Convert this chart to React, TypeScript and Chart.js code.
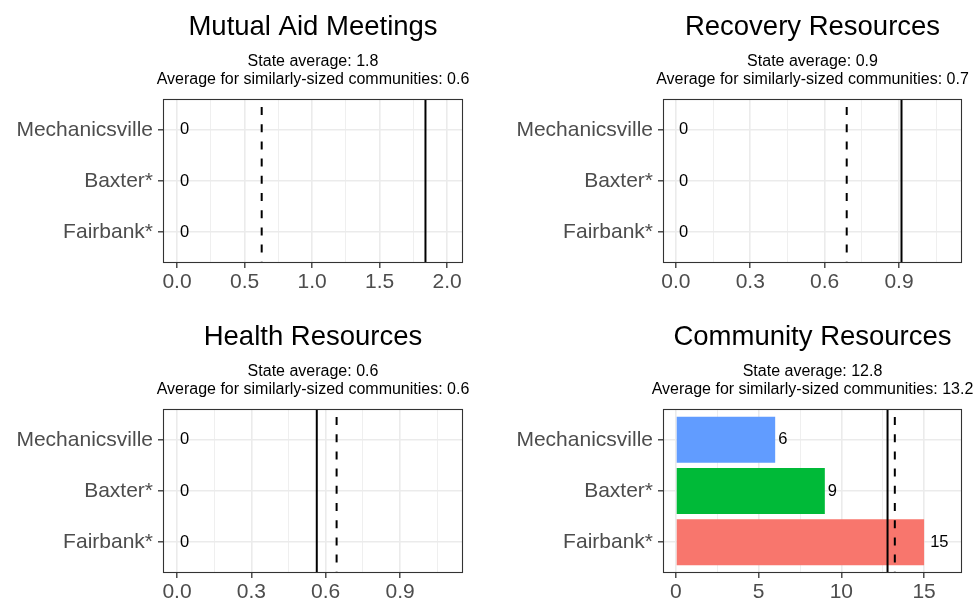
import React, { useEffect, useRef } from "react";
import { Chart, registerables } from "chart.js";

Chart.register(...registerables);

const FONT = "'Liberation Sans', Arial, Helvetica, sans-serif";
Chart.defaults.font.family = FONT;

// ---------- data ----------
const categories = ["Mechanicsville", "Baxter*", "Fairbank*"];
const barColors = ["#619CFF", "#00BA38", "#F8766D"];

const panelTitles = [
  "Mutual Aid Meetings",
  "Recovery Resources",
  "Health Resources",
  "Community Resources",
];

const mutualAidValues = [0, 0, 0];
const recoveryValues = [0, 0, 0];
const healthValues = [0, 0, 0];
const communityValues = [6, 9, 15];

const stateAverage = [1.84, 0.91, 0.564, 12.79];
const similarAverage = [0.627, 0.689, 0.644, 13.23];

const xMajorTicks = [
  [0, 0.5, 1, 1.5, 2],
  [0, 0.3, 0.6, 0.9],
  [0, 0.3, 0.6, 0.9],
  [0, 5, 10, 15],
];
const xMinorTicks = [
  [0.25, 0.75, 1.25, 1.75],
  [0.15, 0.45, 0.75, 1.05],
  [0.15, 0.45, 0.75, 1.05],
  [2.5, 7.5, 12.5],
];
const xTickLabels = [
  ["0.0", "0.5", "1.0", "1.5", "2.0"],
  ["0.0", "0.3", "0.6", "0.9"],
  ["0.0", "0.3", "0.6", "0.9"],
  ["0", "5", "10", "15"],
];
const xMin = [-0.104, -0.052, -0.0565, -0.78];
const xMax = [2.118, 1.154, 1.154, 17.29];

const panelValues = [mutualAidValues, recoveryValues, healthValues, communityValues];

// ---------- layout (style only) ----------
const CANVAS_W = 490;
const CANVAS_H = 310;
const AREA_LEFT = [163, 173, 163, 173];
const AREA_RIGHT = [463, 472, 463, 472];
const AREA_TOP = 99;
const AREA_BOTTOM = 263;

const isIn = (arr: number[], v: number) => arr.some((m) => Math.abs(m - v) < 1e-9);

function Panel({ index }: { index: number }) {
  const ref = useRef<HTMLCanvasElement>(null);

  useEffect(() => {
    const values = panelValues[index];
    const majors = xMajorTicks[index];
    const minors = xMinorTicks[index];
    const labels = xTickLabels[index];

    const overlay = {
      id: "overlay" + index,
      afterDatasetsDraw(chart: any) {
        const { ctx, chartArea: a, scales } = chart;
        const x = scales.x;
        ctx.save();
        // reference lines
        ctx.strokeStyle = "#000000";
        ctx.lineWidth = 2;
        const sx = x.getPixelForValue(stateAverage[index]);
        ctx.beginPath();
        ctx.moveTo(sx, a.top);
        ctx.lineTo(sx, a.bottom);
        ctx.stroke();
        ctx.setLineDash([8, 9.2]);
        ctx.lineDashOffset = 9.2;
        const dx = x.getPixelForValue(similarAverage[index]);
        ctx.beginPath();
        ctx.moveTo(dx, a.top);
        ctx.lineTo(dx, a.bottom);
        ctx.stroke();
        ctx.setLineDash([]);

        // value labels
        const meta = chart.getDatasetMeta(0);
        ctx.font = `16.5px ${FONT}`;
        ctx.fillStyle = "#000000";
        ctx.textBaseline = "middle";
        ctx.textAlign = "left";
        meta.data.forEach((el: any, j: number) => {
          const txt = String(values[j]);
          const w = ctx.measureText(txt).width;
          ctx.fillText(txt, el.x + w * 0.33, el.y);
        });

        // panel border
        ctx.strokeStyle = "#333333";
        ctx.lineWidth = 1.1;
        ctx.strokeRect(
          Math.round(a.left) + 0.5,
          Math.round(a.top) + 0.5,
          Math.round(a.right - a.left) - 1,
          Math.round(a.bottom - a.top) - 1
        );

        // titles
        const cx = (a.left + a.right) / 2;
        ctx.textAlign = "center";
        ctx.textBaseline = "alphabetic";
        ctx.fillStyle = "#000000";
        ctx.font = `27.5px ${FONT}`;
        ctx.fillText(panelTitles[index], cx, 35);
        ctx.font = `16px ${FONT}`;
        ctx.fillText(`State average: ${stateAverage[index].toFixed(1)}`, cx, 66);
        ctx.fillText(
          `Average for similarly-sized communities: ${similarAverage[index].toFixed(1)}`,
          cx,
          84
        );
        ctx.restore();
      },
    };

    const chart = new Chart(ref.current as HTMLCanvasElement, {
      type: "bar",
      data: {
        datasets: [
          {
            data: values.map((v, i) => ({ x: v, y: i })) as any,
            backgroundColor: barColors,
            borderWidth: 0,
            barPercentage: 0.9,
            categoryPercentage: 1,
          },
        ],
      },
      options: {
        indexAxis: "y",
        responsive: false,
        maintainAspectRatio: false,
        animation: false,
        layout: {
          padding: {
            top: AREA_TOP,
            right: CANVAS_W - AREA_RIGHT[index],
            left: 0,
            bottom: 0,
          },
        },
        plugins: {
          legend: { display: false },
          tooltip: { enabled: false },
          title: { display: false },
        },
        scales: {
          x: {
            type: "linear",
            min: xMin[index],
            max: xMax[index],
            offset: false,
            afterBuildTicks: (axis: any) => {
              axis.ticks = [...majors, ...minors]
                .sort((p, q) => p - q)
                .map((v) => ({ value: v }));
            },
            afterFit: (axis: any) => {
              axis.height = CANVAS_H - AREA_BOTTOM;
            },
            ticks: {
              autoSkip: false,
              maxRotation: 0,
              padding: 2,
              color: "#4D4D4D",
              font: { size: 21, family: FONT },
              callback: (v: any) => {
                const k = majors.findIndex((m) => Math.abs(m - Number(v)) < 1e-9);
                return k >= 0 ? labels[k] : "";
              },
            },
            grid: {
              offset: false,
              color: "#EBEBEB",
              lineWidth: (c: any) => (isIn(majors, c.tick?.value) ? 1.6 : 0.8),
              tickLength: 5,
              tickColor: (c: any) =>
                isIn(majors, c.tick?.value) ? "#333333" : "rgba(0,0,0,0)",
              tickWidth: 1.3,
            },
            border: { display: false },
          },
          y: {
            type: "linear",
            min: -0.6,
            max: 2.6,
            reverse: true,
            offset: false,
            afterBuildTicks: (axis: any) => {
              axis.ticks = categories.map((_, i) => ({ value: i }));
            },
            afterFit: (axis: any) => {
              axis.width = AREA_LEFT[index];
            },
            ticks: {
              autoSkip: false,
              padding: 5,
              color: "#4D4D4D",
              font: { size: 21, family: FONT },
              callback: (v: any) => categories[Number(v)] ?? "",
            },
            grid: {
              offset: false,
              color: "#EBEBEB",
              lineWidth: 1.6,
              tickLength: 5,
              tickColor: "#333333",
              tickWidth: 1.3,
            },
            border: { display: false },
          },
        },
      } as any,
      plugins: [overlay],
    });
    return () => chart.destroy();
  }, [index]);

  const left = (index % 2) * CANVAS_W;
  const top = Math.floor(index / 2) * CANVAS_H;
  return (
    <canvas
      ref={ref}
      width={CANVAS_W}
      height={CANVAS_H}
      style={{
        position: "absolute",
        left,
        top,
        width: CANVAS_W,
        height: CANVAS_H,
        display: "block",
      }}
    />
  );
}

export default function App() {
  return (
    <div
      style={{
        position: "fixed",
        left: 0,
        top: 0,
        width: 980,
        height: 601,
        overflow: "hidden",
        background: "#FFFFFF",
      }}
    >
      {[0, 1, 2, 3].map((i) => (
        <Panel key={i} index={i} />
      ))}
    </div>
  );
}
